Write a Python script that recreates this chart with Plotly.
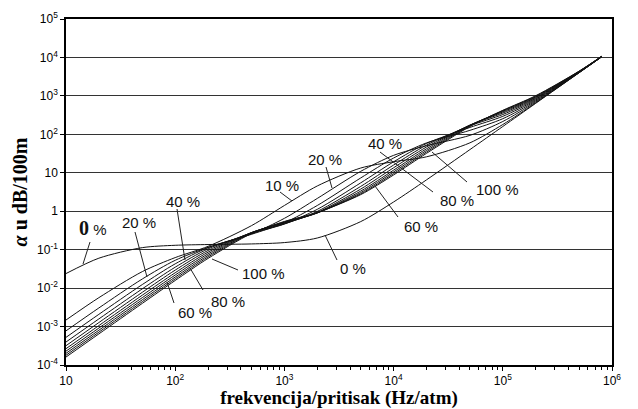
import plotly.graph_objects as go

# frequency / pressure (Hz/atm)
freq = [10, 20, 50, 100, 200, 500, 1e3, 2e3, 5e3, 1e4, 2e4, 5e4, 1e5, 2e5, 5e5, 8e5]

# absorption alpha in dB/100m for relative humidity 0 % ... 100 %
rh0 = [0.0239, 0.0600, 0.113, 0.130, 0.136, 0.141, 0.153, 0.201, 0.537, 1.74, 6.53, 40.1, 160, 639, 3995, 10230]
rh10 = [0.00148, 0.00564, 0.0269, 0.0622, 0.122, 0.422, 1.41, 4.54, 13.3, 19.4, 26.0, 60.1, 180, 660, 4015, 10250]
rh20 = [0.000773, 0.00305, 0.0173, 0.0529, 0.115, 0.259, 0.653, 2.15, 10.9, 28.4, 50.6, 94.1, 216, 696, 4050, 10280]
rh30 = [0.000524, 0.00208, 0.0124, 0.0428, 0.113, 0.251, 0.500, 1.41, 7.34, 24.2, 59.8, 127, 255, 737, 4090, 10330]
rh40 = [0.000396, 0.00158, 0.00959, 0.0350, 0.105, 0.263, 0.465, 1.12, 5.47, 19.3, 57.8, 151, 294, 780, 4140, 10370]
rh50 = [0.000318, 0.00127, 0.00780, 0.0294, 0.0953, 0.273, 0.467, 0.988, 4.42, 15.9, 52.4, 166, 328, 823, 4180, 10420]
rh60 = [0.000266, 0.00106, 0.00656, 0.0251, 0.0861, 0.278, 0.481, 0.928, 3.77, 13.5, 46.8, 173, 358, 865, 4230, 10460]
rh70 = [0.000229, 0.000914, 0.00566, 0.0219, 0.0779, 0.279, 0.498, 0.904, 3.34, 11.7, 42.0, 174, 382, 905, 4280, 10510]
rh80 = [0.000201, 0.000802, 0.00498, 0.0194, 0.0707, 0.276, 0.515, 0.900, 3.05, 10.5, 38.0, 171, 400, 943, 4320, 10560]
rh90 = [0.000179, 0.000715, 0.00444, 0.0174, 0.0646, 0.270, 0.530, 0.908, 2.84, 9.52, 34.7, 166, 413, 978, 4370, 10610]
rh100 = [0.000161, 0.000644, 0.00401, 0.0158, 0.0593, 0.263, 0.542, 0.923, 2.70, 8.78, 32.0, 160, 421, 1010, 4410, 10650]

series_names = ["0 %", "10 %", "20 %", "30 %", "40 %", "50 %", "60 %", "70 %", "80 %", "90 %", "100 %"]
series_vals = [rh0, rh10, rh20, rh30, rh40, rh50, rh60, rh70, rh80, rh90, rh100]

x_tickvals = [10, 1e2, 1e3, 1e4, 1e5, 1e6]
x_ticktext = ["10", "10<sup>2</sup>", "10<sup>3</sup>", "10<sup>4</sup>", "10<sup>5</sup>", "10<sup>6</sup>"]
y_tickvals = [1e-4, 1e-3, 1e-2, 1e-1, 1, 10, 1e2, 1e3, 1e4, 1e5]
y_ticktext = ["10<sup>-4</sup>", "10<sup>-3</sup>", "10<sup>-2</sup>", "10<sup>-1</sup>", "1", "10",
              "10<sup>2</sup>", "10<sup>3</sup>", "10<sup>4</sup>", "10<sup>5</sup>"]

# in-plot labels: text, label centre (px), leader start (px), leader end (px)
labels = [
    ("<span style='font-family:Liberation Serif;font-size:20px;font-weight:bold'>0</span> %", (93, 228), (90, 242), (83, 264)),
    ("20 %", (139, 222), (135, 232), (147, 277)),
    ("40 %", (183, 201), (177, 209), (185, 260)),
    ("100 %", (263, 273), (238, 270), (212, 259)),
    ("80 %", (228, 301), (203, 290), (190, 268)),
    ("60 %", (195, 312), (174, 303), (167, 282)),
    ("10 %", (282, 185), (280, 192), (292, 201)),
    ("20 %", (325, 159), (326, 167), (332, 188)),
    ("40 %", (385, 143), (380, 152), (433, 192)),
    ("60 %", (421, 227), (398, 217), (375, 186)),
    ("80 %", (457, 200), None, None),
    ("100 %", (497, 190), (467, 182), (432, 152)),
    ("0 %", (353, 268), (325, 235), (337, 260)),
]

W, H = 638, 409
L, R, T, B = 66, 26, 19, 44
PW, PH = W - L - R, H - T - B


def px(xp):
    return (xp - L) / PW


def py(yp):
    return (H - B - yp) / PH


fig = go.Figure()
for name, vals in zip(series_names, series_vals):
    fig.add_trace(go.Scatter(
        x=freq, y=vals, mode="lines", name=name, showlegend=False,
        line=dict(color="#111111", width=1, shape="spline", smoothing=0.8),
        hoverinfo="x+y+name",
    ))

annotations = []
shapes = []
for text, (cx, cy), s, e in labels:
    annotations.append(dict(
        text=text, x=px(cx), y=py(cy), xref="paper", yref="paper",
        xanchor="center", yanchor="middle", showarrow=False,
        font=dict(family="Liberation Sans, Arial", size=15, color="#111111"),
    ))
    if s is not None:
        shapes.append(dict(
            type="line", xref="paper", yref="paper",
            x0=px(s[0]), y0=py(s[1]), x1=px(e[0]), y1=py(e[1]),
            line=dict(color="#222222", width=1),
        ))

minor_x = [m * 10 ** d for d in range(1, 6) for m in range(2, 10)]

fig.update_layout(
    width=W, height=H,
    margin=dict(l=L, r=R, t=T, b=B, autoexpand=False),
    paper_bgcolor="white", plot_bgcolor="white",
    annotations=annotations, shapes=shapes,
    xaxis=dict(
        type="log", range=[1, 6], automargin=False,
        tickvals=x_tickvals, ticktext=x_ticktext,
        ticks="outside", ticklen=4, tickwidth=1, tickcolor="black",
        showline=True, linecolor="black", linewidth=1.5, mirror=True,
        showgrid=False, zeroline=False,
        minor=dict(ticks="outside", ticklen=3, tickcolor="black", tickvals=minor_x, showgrid=False),
        tickfont=dict(family="Liberation Sans, Arial", size=12, color="black"),
        title=dict(text="<b>frekvencija/pritisak (Hz/atm)</b>",
                   font=dict(family="Liberation Serif, Times New Roman", size=19, color="black"),
                   standoff=2),
    ),
    yaxis=dict(
        type="log", range=[-4, 5], automargin=False,
        tickvals=y_tickvals, ticktext=y_ticktext,
        ticks="outside", ticklen=4, tickwidth=1, tickcolor="black",
        showline=True, linecolor="black", linewidth=1.5, mirror=True,
        showgrid=True, gridcolor="#333333", gridwidth=1, zeroline=False,
        tickfont=dict(family="Liberation Sans, Arial", size=12, color="black"),
        title=dict(text="<b><i>α</i> u dB/100m</b>",
                   font=dict(family="Liberation Serif, Times New Roman", size=20, color="black"),
                   standoff=4),
    ),
)

fig.write_html("out.html")
